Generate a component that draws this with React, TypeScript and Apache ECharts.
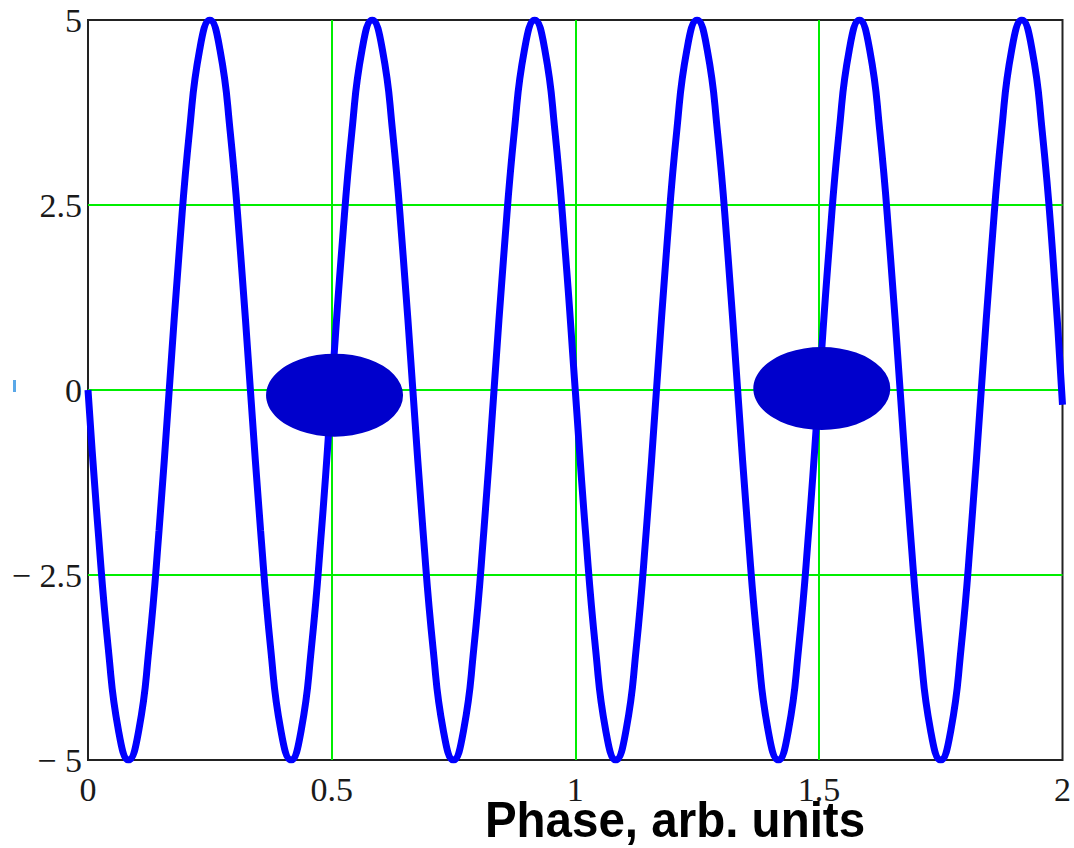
import React, { useEffect, useRef } from "react";
import * as echarts from "echarts";

// Phase values (x)
const phase: number[] = [
  0, 0.0208, 0.0417, 0.0625, 0.0833, 0.1042, 0.125, 0.1458, 0.1667, 0.1875, 0.2083, 0.2292,
  0.25, 0.2708, 0.2917, 0.3125, 0.3333, 0.3542, 0.375, 0.3958, 0.4167, 0.4375, 0.4583, 0.4792,
  0.5, 0.5208, 0.5417, 0.5625, 0.5833, 0.6042, 0.625, 0.6458, 0.6667, 0.6875, 0.7083, 0.7292,
  0.75, 0.7708, 0.7917, 0.8125, 0.8333, 0.8542, 0.875, 0.8958, 0.9167, 0.9375, 0.9583, 0.9792,
  1, 1.0208, 1.0417, 1.0625, 1.0833, 1.1042, 1.125, 1.1458, 1.1667, 1.1875, 1.2083, 1.2292,
  1.25, 1.2708, 1.2917, 1.3125, 1.3333, 1.3542, 1.375, 1.3958, 1.4167, 1.4375, 1.4583, 1.4792,
  1.5, 1.5208, 1.5417, 1.5625, 1.5833, 1.6042, 1.625, 1.6458, 1.6667, 1.6875, 1.7083, 1.7292,
  1.75, 1.7708, 1.7917, 1.8125, 1.8333, 1.8542, 1.875, 1.8958, 1.9167, 1.9375, 1.9583, 1.9792,
  2,
];

// Signal values (y)
const signal: number[] = [
  0, -1.9, -3.5, -4.6, -5, -4.6, -3.5, -1.9, 0, 1.9, 3.5, 4.6, 5, 4.6, 3.5, 1.9,
  0, -1.9, -3.5, -4.6, -5, -4.6, -3.5, -1.9, 0, 1.9, 3.5, 4.6, 5, 4.6, 3.5, 1.9,
  0, -1.9, -3.5, -4.6, -5, -4.6, -3.5, -1.9, 0, 1.9, 3.5, 4.6, 5, 4.6, 3.5, 1.9,
  0, -1.9, -3.5, -4.6, -5, -4.6, -3.5, -1.9, 0, 1.9, 3.5, 4.6, 5, 4.6, 3.5, 1.9,
  0, -1.9, -3.5, -4.6, -5, -4.6, -3.5, -1.9, 0, 1.9, 3.5, 4.6, 5, 4.6, 3.5, 1.9,
  0, -1.9, -3.5, -4.6, -5, -4.6, -3.5, -1.9, 0, 1.9, 3.5, 4.6, 5, 4.6, 3.5, 1.9,
  -0.2,
];

// Marker ellipses
const markerX: number[] = [0.506, 1.506];
const markerY: number[] = [-0.07, 0.02];

const xTicks = { min: 0, max: 2, interval: 0.5 };
const yTicks = { min: -5, max: 5, interval: 2.5 };

const xTitle = "Phase, arb. units";

export default function App() {
  const ref = useRef<HTMLDivElement>(null);

  useEffect(() => {
    if (!ref.current) return;
    const chart = echarts.init(ref.current, undefined, { renderer: "svg" });
    const labelFont = {
      fontFamily: '"Liberation Serif", "Times New Roman", serif',
      fontSize: 34,
      color: "#1a1a1a",
    };
    const fmt = (v: number) => {
      const a = Math.abs(v);
      const s = String(a);
      return v < 0 ? "\u2212 " + s : s;
    };
    chart.setOption({
      animation: false,
      backgroundColor: "#ffffff",
      grid: {
        left: 88,
        top: 20,
        right: 8,
        bottom: 88,
        show: true,
        borderColor: "#222222",
        borderWidth: 2,
        backgroundColor: "transparent",
        containLabel: false,
      },
      xAxis: {
        type: "value",
        min: xTicks.min,
        max: xTicks.max,
        interval: xTicks.interval,
        axisLine: { show: false },
        axisTick: { show: false },
        axisLabel: { ...labelFont, margin: 12, formatter: fmt },
        splitLine: {
          show: true,
          showMinLine: false,
          showMaxLine: false,
          lineStyle: { color: "#00ee00", width: 2 },
        },
      },
      yAxis: {
        type: "value",
        min: yTicks.min,
        max: yTicks.max,
        interval: yTicks.interval,
        axisLine: { show: false },
        axisTick: { show: false },
        axisLabel: { ...labelFont, margin: 6, formatter: fmt },
        splitLine: {
          show: true,
          showMinLine: false,
          showMaxLine: false,
          lineStyle: { color: "#00ee00", width: 2 },
        },
      },
      series: [
        {
          type: "line",
          data: phase.map((x, i) => [x, signal[i]]),
          smooth: true,
          showSymbol: false,
          symbol: "none",
          clip: true,
          lineStyle: { color: "#0000ff", width: 7 },
          z: 3,
        },
        {
          type: "scatter",
          data: markerX.map((x, i) => [x, markerY[i]]),
          symbol: "circle",
          symbolSize: [137, 83],
          itemStyle: { color: "#0000cc", opacity: 1 },
          clip: false,
          z: 5,
        },
      ],
      graphic: [
        {
          type: "text",
          x: 675,
          y: 819,
          scaleX: 1.08,
          scaleY: 1.15,
          style: {
            text: xTitle,
            font: 'bold 44px "Liberation Sans", Arial, sans-serif',
            fill: "#000000",
            textAlign: "center",
            textVerticalAlign: "middle",
          },
        },
        {
          type: "rect",
          shape: { x: 13, y: 380, width: 3, height: 12 },
          style: { fill: "#5aa8e8" },
        },
      ],
    });
    return () => chart.dispose();
  }, []);

  return (
    <div
      ref={ref}
      style={{ position: "fixed", left: 0, top: 0, width: 1074, height: 848, background: "#fff" }}
    />
  );
}
